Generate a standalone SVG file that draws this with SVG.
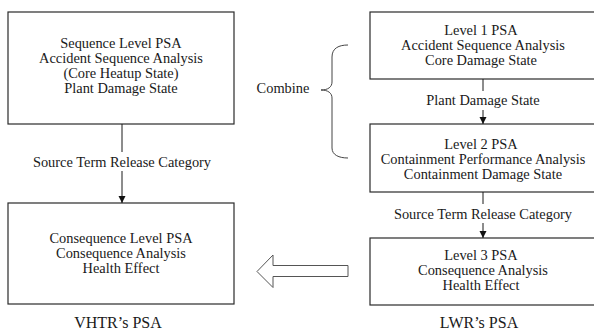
<svg xmlns="http://www.w3.org/2000/svg" width="594" height="331" viewBox="0 0 594 331">
<defs>
<style>
text{font-family:"Liberation Serif","Times New Roman",serif;font-size:14.4px;fill:#1a1a1a;text-anchor:middle}
.box{fill:#fff;stroke:#2a2a2a;stroke-width:1.2}
.edge{stroke:#1a1a1a;stroke-width:1;fill:none}
.title{font-size:16px}
</style>
<marker id="ah" viewBox="0 0 10 10" refX="10" refY="5" markerWidth="7" markerHeight="8" markerUnits="userSpaceOnUse" orient="auto">
<path d="M0,0 L10,5 L0,10 Z" fill="#111"/>
</marker>
</defs>
<rect width="594" height="331" fill="#fff"/>

<g id="seq-level">
<rect class="box" x="8" y="12" width="226" height="112"/>
<text x="121" y="48">Sequence Level PSA</text>
<text x="121" y="63">Accident Sequence Analysis</text>
<text x="121" y="78">(Core Heatup State)</text>
<text x="121" y="93">Plant Damage State</text>
</g>

<g id="cons-level">
<rect class="box" x="8" y="203" width="226" height="101"/>
<text x="121" y="243">Consequence Level PSA</text>
<text x="121" y="258">Consequence Analysis</text>
<text x="121" y="273">Health Effect</text>
</g>

<g id="level1">
<rect class="box" x="370" y="12" width="240" height="67"/>
<text x="481" y="34.5">Level 1 PSA</text>
<text x="483" y="50">Accident Sequence Analysis</text>
<text x="481" y="65">Core Damage State</text>
</g>

<g id="level2">
<rect class="box" x="370" y="124" width="240" height="68"/>
<text x="481" y="148.5">Level 2 PSA</text>
<text x="483" y="163.5">Containment Performance Analysis</text>
<text x="483" y="178.5">Containment Damage State</text>
</g>

<g id="level3">
<rect class="box" x="370" y="238" width="240" height="67"/>
<text x="481" y="260">Level 3 PSA</text>
<text x="483" y="275">Consequence Analysis</text>
<text x="481" y="290">Health Effect</text>
</g>

<g id="combine">
<path d="M348,45 C339,45 332,48 332,57 L332,82 C332,87 328,90 321,90 C328,90 332,93 332,98 L332,148 C332,155 339,158 348,158" fill="none" stroke="#444" stroke-width="1"/>
<text x="283" y="93">Combine</text>
</g>

<g id="connectors">
<line class="edge" x1="122" y1="124" x2="122" y2="152"/>
<line class="edge" x1="122" y1="171" x2="122" y2="203" marker-end="url(#ah)"/>
<text x="122" y="167">Source Term Release Category</text>

<line class="edge" x1="483" y1="79" x2="483" y2="91"/>
<line class="edge" x1="483" y1="110" x2="483" y2="124" marker-end="url(#ah)"/>
<text x="483" y="105">Plant Damage State</text>

<line class="edge" x1="483" y1="192" x2="483" y2="204"/>
<line class="edge" x1="483" y1="223" x2="483" y2="238" marker-end="url(#ah)"/>
<text x="483" y="218.5">Source Term Release Category</text>

<polygon points="257,271.5 273,255 273,265.5 348,265.5 348,276.5 273,276.5 273,287.5" fill="#fff" stroke="#555" stroke-width="1"/>
</g>

<text class="title" x="118" y="328">VHTR’s PSA</text>
<text class="title" x="479" y="328">LWR’s PSA</text>
</svg>
